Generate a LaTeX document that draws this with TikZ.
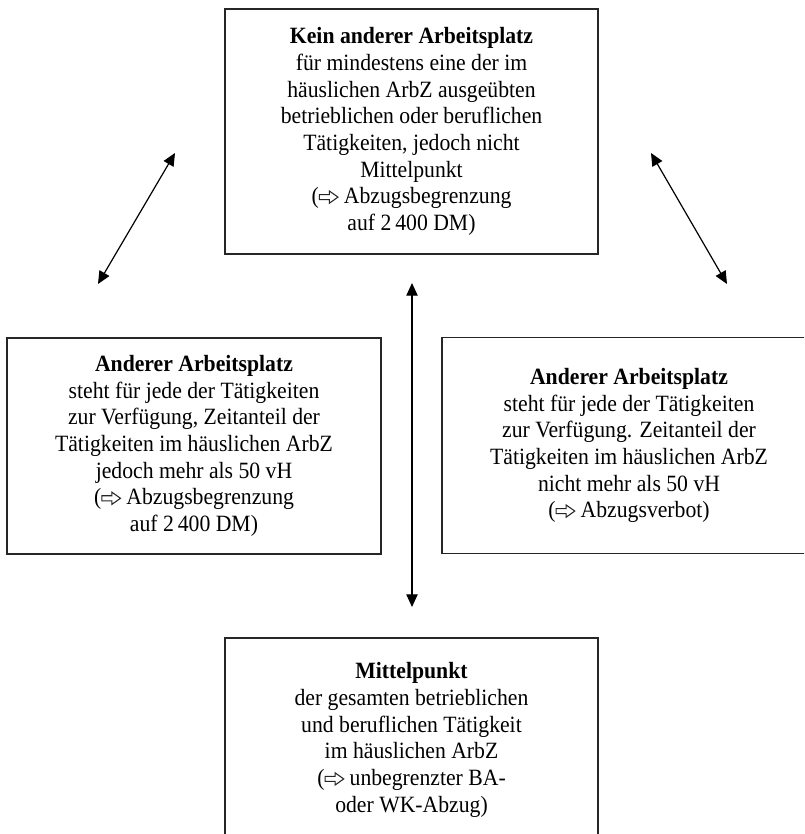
\documentclass[tikz,border=0pt]{standalone}
\usepackage{fontspec}
\setmainfont[FakeStretch=0.93]{Liberation Serif}
\usetikzlibrary{arrows.meta}
\newcommand{\hint}{\tikz[baseline=-5pt]\draw[line width=0.8pt, line join=miter, black!85]
  (0,-1.9pt) -- (7.5pt,-1.9pt) -- (7.5pt,-4.6pt) -- (14pt,0pt) -- (7.5pt,4.6pt) -- (7.5pt,1.9pt) -- (0,1.9pt) -- cycle;}
\tikzset{
  infobox/.style={draw=black!85, line width=1.2pt, rectangle, inner sep=0pt, align=center,
    font=\fontsize{17.5pt}{20pt}\selectfont},
  dblarrow/.style={line width=0.9pt, {Triangle[length=9.5pt,width=8.5pt]}-{Triangle[length=9.5pt,width=8.5pt]}}
}
\begin{document}
\begin{tikzpicture}[x=0.75pt,y=-0.75pt]
\clip (0,0) rectangle (804,834);
\fill[white] (0,0) rectangle (804,834);
\node[infobox, minimum width=279.75pt, minimum height=183.75pt] (top) at (411.5,131.5)
  {\textbf{Kein anderer Arbeitsplatz}\\ für mindestens eine der im\\ häuslichen ArbZ ausgeübten\\ betrieblichen oder beruflichen\\ Tätigkeiten, jedoch nicht\\ Mittelpunkt\\ (\hint\ Abzugsbegrenzung\\ auf 2\,400 DM)};
\node[infobox, minimum width=280.5pt, minimum height=162pt] (left) at (194,446)
  {\textbf{Anderer Arbeitsplatz}\\ steht für jede der Tätigkeiten\\ zur Verfügung, Zeitanteil der\\ Tätigkeiten im häuslichen ArbZ\\ jedoch mehr als 50 vH\\ (\hint\ Abzugsbegrenzung\\ auf 2\,400 DM)};
\node[infobox, minimum width=280.5pt, minimum height=162pt] (right) at (629,445.5)
  {\textbf{Anderer Arbeitsplatz}\\ steht für jede der Tätigkeiten\\ zur Verfügung. Zeitanteil der\\ Tätigkeiten im häuslichen ArbZ\\ nicht mehr als 50 vH\\ (\hint\ Abzugsverbot)};
\node[infobox, minimum width=279.75pt, minimum height=153pt] (bot) at (411.5,740)
  {\textbf{Mittelpunkt}\\ der gesamten betrieblichen\\ und beruflichen Tätigkeit\\ im häuslichen ArbZ\\ (\hint\ unbegrenzter BA-\\ oder WK-Abzug)};
\coordinate (l1) at (175,153);
\coordinate (l2) at (98,284);
\coordinate (r1) at (651,153);
\coordinate (r2) at (727,284);
\coordinate (v1) at (412,283);
\coordinate (v2) at (412,607);
\draw[dblarrow] (l1) -- (l2);
\draw[dblarrow] (r1) -- (r2);
\draw[dblarrow] (v1) -- (v2);
\end{tikzpicture}
\end{document}
